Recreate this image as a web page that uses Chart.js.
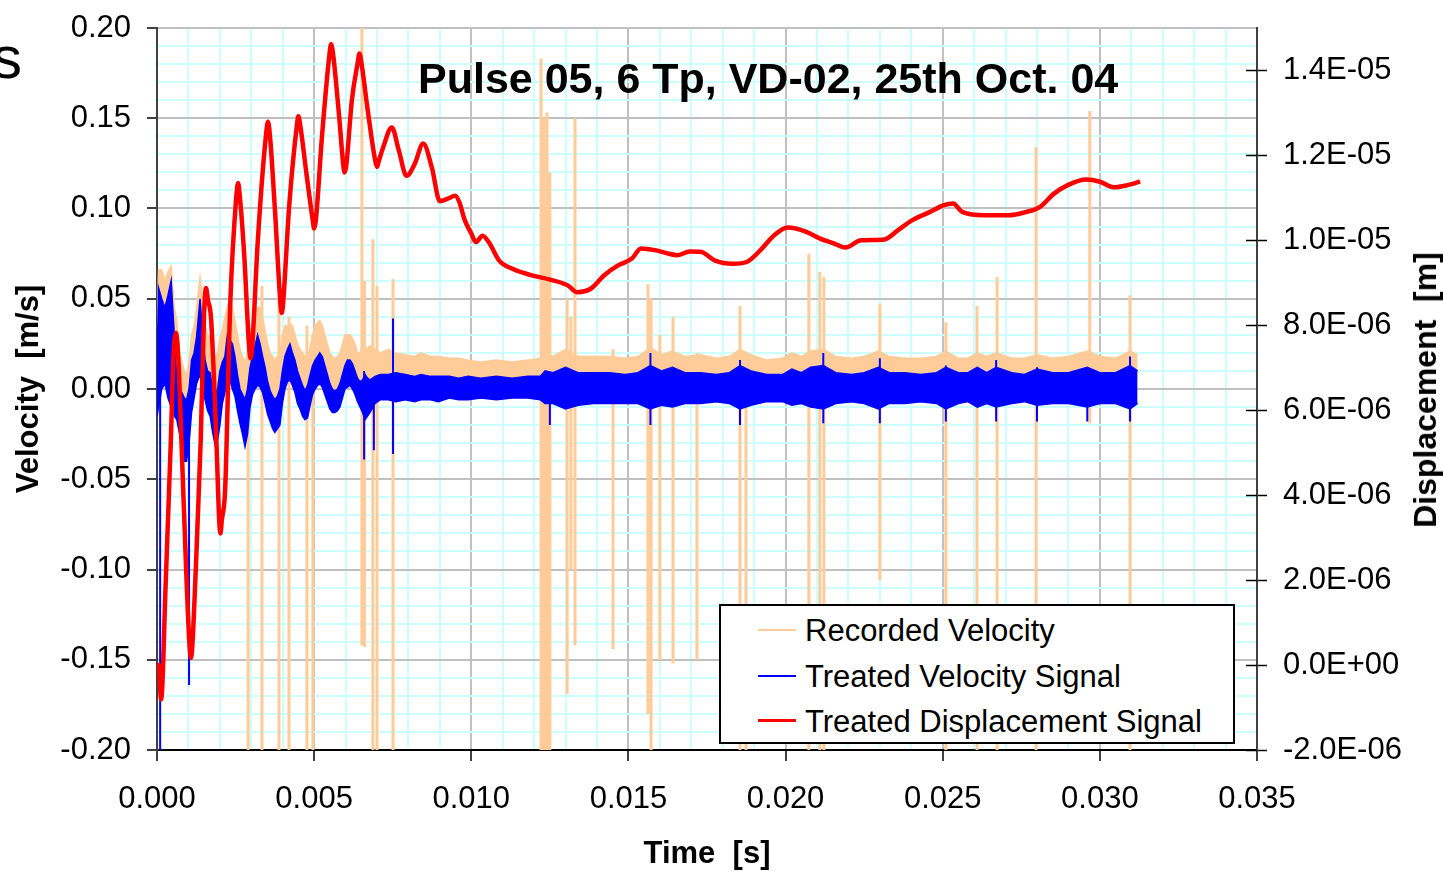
<!DOCTYPE html>
<html>
<head>
<meta charset="utf-8">
<script src="https://cdn.jsdelivr.net/npm/chart.js@4.4.1/dist/chart.umd.min.js"></script>
<style>
  body { margin: 0; background: #fff; font-family: Arial, "Liberation Sans", Helvetica, sans-serif; }
  #wrap { position: relative; width: 1443px; height: 871px; overflow: hidden; }
  #chart { position: absolute; left: 0; top: 0; }
  .txt { position: absolute; line-height: 1; white-space: pre; color: #000; }
  #legend { position: absolute; left: 719px; top: 604px; width: 516px; height: 140px; box-sizing: border-box;
            border: 2px solid #000; background: #fff; }
  .row { position: absolute; left: 0; width: 100%; }
  .swatch { position: absolute; left: 37px; width: 38px; }
  .label { position: absolute; left: 84px; font-size: 31px; line-height: 1; white-space: pre; }
</style>
</head>
<body>
<div id="wrap">
  <canvas id="chart" width="1443" height="871"></canvas>
  <div class="txt" style="left:-8px; top:28px; font-size:60px;">s</div>
  <div class="txt" style="left:418px; top:57px; font-size:43px; font-weight:bold;">Pulse 05, 6 Tp, VD-02, 25th Oct. 04</div>
  <div class="txt" style="left:1425px; top:390px; font-size:32px; font-weight:bold; transform: translate(-50%,-50%) rotate(-90deg);">Displacement  [m]</div>
  <div id="legend">
    <div class="row" style="top:23px;"><div class="swatch" style="top:0; height:2px; background:#ffcc99;"></div><div class="label" style="top:-14px;">Recorded Velocity</div></div>
    <div class="row" style="top:69px;"><div class="swatch" style="top:0; height:2px; background:#0000ff;"></div><div class="label" style="top:-14px;">Treated Velocity Signal</div></div>
    <div class="row" style="top:114px;"><div class="swatch" style="top:-1px; height:3px; background:#ff0000;"></div><div class="label" style="top:-14px;">Treated Displacement Signal</div></div>
  </div>
</div>
<script>
// time in ms, velocity in m/s, displacement in micrometres
const velT = [
  0.00,0.05,0.15,0.25,0.35,0.45,0.55,0.63,0.72,0.79,
  0.87,0.94,1.02,1.10,1.18,1.26,1.37,1.45,1.53,1.61,
  1.69,1.77,1.85,1.93,2.00,2.08,2.16,2.24,2.32,2.40,
  2.48,2.56,2.64,2.72,2.80,2.88,2.96,3.04,3.12,3.20,
  3.28,3.36,3.44,3.52,3.60,3.68,3.75,3.83,3.91,3.99,
  4.07,4.15,4.23,4.31,4.39,4.47,4.55,4.63,4.71,4.79,
  4.86,4.95,5.03,5.11,5.18,5.26,5.34,5.42,5.50,5.58,
  5.66,5.74,5.82,5.90,5.98,6.06,6.14,6.22,6.30,6.38,
  6.46,6.54,6.62,6.70,6.78,6.94,7.10,7.36,7.60,7.90,
  8.20,8.40,8.70,8.95,9.30,9.60,
  9.90,10.30,10.80,11.30,11.80,12.20,12.35,12.60,13.00,13.40,
  13.90,14.40,14.90,15.30,15.70,16.05,16.40,16.80,17.30,17.80,
  18.20,18.55,18.90,19.40,19.90,20.20,20.50,20.80,21.20,21.60,
  22.10,22.50,22.95,23.30,23.80,24.30,24.80,25.10,25.50,25.80,
  26.10,26.40,26.70,27.20,27.60,28.00,28.50,29.00,29.60,30.00,
  30.50,30.96,31.20
];

const blueHi = [
  0.010,0.056,0.050,0.045,0.052,0.060,0.030,0.005,0.000,-0.002,
  -0.005,-0.006,0.000,0.016,0.020,0.029,0.050,0.030,0.016,0.010,
  0.009,0.000,-0.002,0.000,0.010,0.015,0.018,0.030,0.027,0.025,
  0.018,0.008,0.000,-0.003,-0.006,0.000,0.012,0.018,0.024,0.030,
  0.025,0.018,0.012,0.004,-0.001,-0.004,-0.006,-0.004,0.000,0.010,
  0.018,0.022,0.025,0.020,0.016,0.010,0.006,0.002,-0.001,0.002,
  0.007,0.013,0.016,0.018,0.020,0.018,0.013,0.008,0.003,0.000,
  -0.001,0.000,0.003,0.008,0.013,0.016,0.016,0.014,0.010,0.006,
  0.004,0.005,0.008,0.006,0.005,0.007,0.008,0.008,0.009,0.008,
  0.007,0.008,0.007,0.007,0.007,0.006,
  0.007,0.006,0.007,0.006,0.007,0.007,0.010,0.009,0.012,0.009,
  0.009,0.009,0.008,0.009,0.013,0.010,0.012,0.009,0.009,0.008,
  0.009,0.013,0.010,0.008,0.008,0.011,0.009,0.012,0.013,0.009,
  0.008,0.009,0.012,0.009,0.009,0.008,0.009,0.012,0.009,0.009,
  0.012,0.009,0.012,0.009,0.008,0.011,0.009,0.009,0.012,0.009,
  0.009,0.013,0.010
];

const blueLo = [
  -0.015,-0.010,0.000,0.003,-0.005,-0.010,-0.015,-0.017,-0.025,-0.032,
  -0.040,-0.040,-0.030,-0.013,-0.005,0.003,0.008,0.000,-0.006,-0.012,
  -0.015,-0.024,-0.031,-0.028,-0.020,-0.008,-0.002,0.003,0.005,0.000,
  -0.004,-0.012,-0.019,-0.025,-0.032,-0.025,-0.010,-0.003,0.000,0.002,
  0.001,-0.002,-0.008,-0.014,-0.018,-0.022,-0.024,-0.022,-0.020,-0.008,
  0.000,0.004,0.005,0.002,-0.002,-0.008,-0.011,-0.015,-0.017,-0.016,
  -0.010,-0.003,0.000,0.002,0.003,0.001,-0.003,-0.007,-0.011,-0.013,
  -0.013,-0.012,-0.010,-0.005,0.000,0.001,0.002,0.000,-0.003,-0.007,
  -0.010,-0.013,-0.017,-0.015,-0.013,-0.008,-0.006,-0.006,-0.007,-0.006,
  -0.007,-0.006,-0.006,-0.007,-0.005,-0.006,
  -0.006,-0.005,-0.006,-0.005,-0.005,-0.006,-0.008,-0.008,-0.011,-0.009,
  -0.008,-0.008,-0.008,-0.008,-0.011,-0.009,-0.010,-0.008,-0.008,-0.007,
  -0.008,-0.011,-0.009,-0.007,-0.007,-0.009,-0.008,-0.010,-0.011,-0.008,
  -0.007,-0.008,-0.011,-0.008,-0.008,-0.007,-0.008,-0.011,-0.008,-0.007,
  -0.010,-0.008,-0.010,-0.008,-0.007,-0.009,-0.008,-0.008,-0.010,-0.008,
  -0.008,-0.011,-0.008
];

const recHi = [
  0.030,0.066,0.066,0.060,0.065,0.068,0.045,0.038,0.020,0.015,
  0.010,0.008,0.015,0.030,0.035,0.045,0.062,0.050,0.035,0.030,
  0.028,0.020,0.018,0.020,0.028,0.033,0.040,0.045,0.050,0.045,
  0.038,0.030,0.022,0.018,0.015,0.020,0.030,0.038,0.045,0.045,
  0.045,0.040,0.032,0.025,0.020,0.018,0.016,0.018,0.020,0.030,
  0.035,0.035,0.036,0.035,0.030,0.025,0.022,0.020,0.018,0.018,
  0.022,0.030,0.035,0.037,0.038,0.035,0.030,0.025,0.020,0.018,
  0.017,0.018,0.020,0.025,0.030,0.030,0.030,0.028,0.025,0.020,
  0.020,0.025,0.022,0.023,0.024,0.022,0.020,0.022,0.020,0.019,
  0.018,0.020,0.018,0.018,0.017,0.017,
  0.016,0.015,0.016,0.015,0.016,0.017,0.020,0.018,0.022,0.018,
  0.018,0.018,0.017,0.018,0.023,0.019,0.021,0.018,0.019,0.017,
  0.018,0.022,0.019,0.016,0.017,0.020,0.018,0.021,0.022,0.018,
  0.017,0.018,0.021,0.018,0.017,0.017,0.018,0.021,0.017,0.017,
  0.020,0.018,0.020,0.017,0.017,0.019,0.017,0.018,0.021,0.018,
  0.017,0.021,0.019
];

const recLo = [
  -0.005,0.000,0.010,0.012,0.005,0.000,-0.006,-0.008,-0.016,-0.022,
  -0.030,-0.030,-0.020,-0.004,0.004,0.012,0.018,0.010,0.003,-0.003,
  -0.006,-0.015,-0.022,-0.019,-0.011,0.001,0.007,0.012,0.014,0.009,
  0.005,-0.003,-0.010,-0.016,-0.022,-0.016,-0.001,0.006,0.009,0.011,
  0.010,0.007,0.001,-0.005,-0.009,-0.013,-0.015,-0.013,-0.011,0.001,
  0.009,0.013,0.014,0.011,0.007,0.001,-0.002,-0.006,-0.008,-0.007,
  -0.001,0.006,0.009,0.011,0.012,0.010,0.006,0.002,-0.002,-0.004,
  -0.004,-0.003,-0.001,0.004,0.009,0.010,0.011,0.009,0.006,0.002,
  -0.001,-0.004,-0.008,-0.006,-0.004,0.001,0.003,0.003,0.002,0.003,
  0.002,0.003,0.003,0.002,0.004,0.003,
  0.004,0.004,0.004,0.004,0.005,0.005,0.006,0.006,0.007,0.006,
  0.006,0.006,0.006,0.006,0.007,0.006,0.007,0.006,0.006,0.006,
  0.006,0.007,0.006,0.005,0.005,0.006,0.006,0.007,0.007,0.006,
  0.005,0.006,0.007,0.006,0.006,0.005,0.006,0.007,0.006,0.006,
  0.007,0.006,0.007,0.006,0.005,0.006,0.006,0.006,0.007,0.006,
  0.006,0.007,0.006
];

// isolated spikes of the recorded signal
const recSpikeT = [2.90,3.34,3.88,4.20,4.77,4.96,6.52,6.60,6.87,7.00,
  7.51,12.22,12.26,12.31,12.36,12.41,12.45,12.50,13.05,13.17,
  13.30,14.51,15.62,15.72,16.00,16.42,17.18,18.55,18.74,20.74,
  21.09,21.22,23.00,25.10,26.09,26.73,27.97,29.68,30.96];
const recSpikeTop = [0.020,0.057,0.050,0.040,0.035,0.030,0.200,0.060,0.083,0.057,
  0.061,0.183,0.120,0.150,0.100,0.153,0.080,0.120,0.050,0.040,
  0.150,0.022,0.058,0.050,0.030,0.040,0.020,0.046,0.020,0.075,
  0.065,0.062,0.047,0.037,0.046,0.062,0.134,0.154,0.052];
const recSpikeBot = [-0.200,-0.200,-0.200,-0.200,-0.200,-0.200,-0.142,-0.143,-0.200,-0.200,
  -0.200,-0.200,-0.200,-0.200,-0.200,-0.200,-0.200,-0.200,-0.169,-0.100,
  -0.142,-0.144,-0.180,-0.200,-0.150,-0.152,-0.150,-0.200,-0.200,-0.200,
  -0.200,-0.200,-0.106,-0.200,-0.200,-0.200,-0.200,-0.019,-0.200];

// spikes of the treated signal
const blueSpikeT = [0.10,1.02,6.59,6.90,7.51,12.50,15.70,18.55,21.20,23.00,25.10,26.70,28.00,29.60,30.96];
const blueSpikeTop = [0.050,0.000,0.010,0.005,0.039,0.005,0.020,0.016,0.020,0.017,0.013,0.016,0.012,0.010,0.018];
const blueSpikeBot = [-0.200,-0.164,-0.039,-0.034,-0.036,-0.020,-0.020,-0.020,-0.019,-0.019,-0.018,-0.018,-0.018,-0.018,-0.018];

const dispT = [
  0.00,0.05,0.13,0.28,0.44,0.52,0.60,0.68,0.78,0.94,1.04,1.08,1.12,1.22,1.39,
  1.50,1.56,1.62,1.72,1.89,1.98,2.02,2.06,2.17,2.33,2.52,2.58,2.64,2.78,2.93,2.98,3.03,3.20,
  3.47,3.53,3.59,3.75,3.93,3.97,4.01,4.20,4.45,4.50,4.56,4.75,4.96,5.00,5.05,5.25,
  5.49,5.54,5.60,5.80,5.93,5.97,6.02,6.20,6.39,6.44,6.50,6.70,6.95,7.00,7.05,
  7.20,7.47,7.70,7.94,8.20,8.47,8.75,9.00,9.25,9.49,
  9.63,9.78,10.00,10.15,10.36,10.58,10.88,11.31,11.90,12.48,
  13.07,13.36,13.80,14.23,14.67,15.11,15.40,15.84,16.20,16.57,16.95,17.30,
  17.74,18.32,18.76,19.20,19.64,20.07,20.66,21.10,21.53,21.90,
  22.41,23.14,23.58,24.02,24.60,25.04,25.33,25.62,26.35,27.08,
  27.66,28.10,28.54,28.98,29.56,30.00,30.44,30.88,31.17,31.28
];
const dispMicro = [
  0.0,0.0,-0.81,2.0,5.27,7.2,7.82,7.2,5.23,2.0,0.4,0.17,0.4,2.0,5.27,
  8.3,8.88,8.6,8.16,5.27,3.4,3.1,3.4,4.16,8.5,11.0,11.35,11.0,9.6,7.5,7.22,7.5,9.9,
  12.5,12.79,12.5,10.75,8.5,8.29,8.5,10.75,12.7,12.92,12.7,11.6,10.45,10.28,10.45,12.45,
  14.4,14.62,14.4,12.88,11.75,11.6,11.75,13.3,14.2,14.4,14.2,13.09,11.85,11.73,11.85,
  12.2,12.66,12.1,11.52,11.8,12.28,11.7,10.92,10.98,11.05,
  10.88,10.5,10.16,9.96,10.11,9.93,9.53,9.33,9.18,9.08,
  8.94,8.78,8.86,9.18,9.41,9.57,9.81,9.77,9.70,9.65,9.74,9.73,
  9.53,9.45,9.49,9.77,10.12,10.3,10.2,10.04,9.93,9.83,
  10.0,10.02,10.24,10.47,10.67,10.83,10.87,10.67,10.59,10.59,
  10.67,10.79,11.1,11.3,11.43,11.38,11.25,11.3,11.36,11.39
];

const ORANGE = '#ffcc99';
const BLUE = '#0000ff';
const RED = '#ff0000';
const FONT = 'Arial, "Liberation Sans", Helvetica, sans-serif';

function series(ts, vals, k) {
  return ts.map((t, i) => ({ x: t / 1000, y: vals[i] * (k || 1) }));
}
function spikes(ts, tops, bots) {
  const out = [];
  ts.forEach((t, i) => {
    out.push({ x: t / 1000, y: tops[i] }, { x: t / 1000, y: bots[i] }, { x: t / 1000, y: null });
  });
  return out;
}
function onStep(v, step) {
  const r = v / step;
  return Math.abs(r - Math.round(r)) < 1e-6;
}
function sci(v) {
  const m = Math.round(v * 1e8) / 1e8;
  if (m === 0) return '0.0E+00';
  const e = Math.floor(Math.log10(Math.abs(m)) + 1e-9);
  const mant = m / Math.pow(10, e);
  return mant.toFixed(1) + 'E' + (e < 0 ? '-' : '+') + String(Math.abs(e)).padStart(2, '0');
}
// fixed width for the vertical axes; drop the label overhang so the plot top stays at 28px
function fixVertical(w) {
  return s => { s.width = w; s.paddingTop = 0; s.paddingBottom = 0; };
}

// inner half of the right-axis tick marks (cross ticks)
const crossTicks = {
  id: 'crossTicks',
  afterDraw(chart) {
    const s = chart.scales.y1;
    const ctx = chart.ctx;
    const right = chart.chartArea.right;
    ctx.save();
    ctx.strokeStyle = '#000';
    ctx.lineWidth = 1.5;
    s.ticks.forEach(t => {
      if (!onStep(t.value, 2e-6)) return;
      const y = Math.round(s.getPixelForValue(t.value)) + 0.5;
      ctx.beginPath();
      ctx.moveTo(right - 11, y);
      ctx.lineTo(right, y);
      ctx.stroke();
    });
    ctx.restore();
  }
};

const common = { pointRadius: 0, pointHoverRadius: 0, tension: 0, spanGaps: false };

new Chart(document.getElementById('chart'), {
  type: 'line',
  data: {
    datasets: [
      Object.assign({}, common, { label: 'Treated Displacement Signal', data: series(dispT, dispMicro, 1e-6),
        borderColor: RED, borderWidth: 4.5, yAxisID: 'y1', order: 0, fill: false,
        cubicInterpolationMode: 'monotone' }),
      Object.assign({ label: 'Treated Velocity Signal', data: series(velT, blueHi),
        borderColor: BLUE, backgroundColor: BLUE, borderWidth: 1.5, yAxisID: 'y', order: 1, fill: '+1' }, common),
      Object.assign({ label: 'blue low', data: series(velT, blueLo),
        borderColor: BLUE, borderWidth: 1.5, yAxisID: 'y', order: 1, fill: false }, common),
      Object.assign({ label: 'blue spikes', data: spikes(blueSpikeT, blueSpikeTop, blueSpikeBot),
        borderColor: BLUE, borderWidth: 2, yAxisID: 'y', order: 1, fill: false }, common),
      Object.assign({ label: 'Recorded Velocity', data: series(velT, recHi),
        borderColor: ORANGE, backgroundColor: ORANGE, borderWidth: 1.5, yAxisID: 'y', order: 2, fill: '+1' }, common),
      Object.assign({ label: 'rec low', data: series(velT, recLo),
        borderColor: ORANGE, borderWidth: 1.5, yAxisID: 'y', order: 2, fill: false }, common),
      Object.assign({ label: 'rec spikes', data: spikes(recSpikeT, recSpikeTop, recSpikeBot),
        borderColor: ORANGE, borderWidth: 3, yAxisID: 'y', order: 2, fill: false }, common)
    ]
  },
  options: {
    responsive: false,
    animation: false,
    events: [],
    layout: { padding: { top: 28, left: 0, right: 0, bottom: 0 } },
    plugins: { legend: { display: false }, tooltip: { enabled: false }, title: { display: false } },
    scales: {
      x: {
        type: 'linear', min: 0, max: 0.035,
        afterFit: s => { s.height = 121; },
        border: { color: '#000', width: 2 },
        grid: {
          color: c => onStep(c.tick.value, 0.005) ? '#c0c0c0' : '#ccffff',
          lineWidth: 2,
          tickLength: 11,
          tickWidth: 1.5,
          tickColor: c => onStep(c.tick.value, 0.005) ? '#000' : 'rgba(0,0,0,0)'
        },
        ticks: {
          stepSize: 0.001, autoSkip: false, maxRotation: 0, padding: 20, color: '#000',
          font: { family: FONT, size: 31 },
          callback: v => onStep(v, 0.005) ? v.toFixed(3) : ''
        },
        title: { display: true, text: 'Time  [s]', color: '#000', padding: { top: 0, bottom: 1 },
          font: { family: FONT, size: 31, weight: 'bold', lineHeight: 1 } }
      },
      y: {
        position: 'left', min: -0.2, max: 0.2,
        afterFit: fixVertical(157),
        border: { color: '#404040', width: 2 },
        grid: {
          color: c => onStep(c.tick.value, 0.05) ? '#c0c0c0' : '#ccffff',
          lineWidth: 2,
          tickLength: 10,
          tickWidth: 1.5,
          tickColor: c => onStep(c.tick.value, 0.05) ? '#000' : 'rgba(0,0,0,0)'
        },
        ticks: {
          stepSize: 0.01, autoSkip: false, padding: 16, color: '#000',
          font: { family: FONT, size: 31 },
          callback: v => onStep(v, 0.05) ? (Math.round(v * 100) / 100).toFixed(2) : ''
        },
        title: { display: true, text: 'Velocity  [m/s]', color: '#000', padding: { top: 14, bottom: 0 },
          font: { family: FONT, size: 31, weight: 'bold', lineHeight: 1 } }
      },
      y1: {
        position: 'right', min: -2e-6, max: 1.5e-5,
        afterFit: fixVertical(186),
        border: { color: '#404040', width: 2 },
        grid: {
          drawOnChartArea: false,
          tickLength: 10,
          tickWidth: 1.5,
          tickColor: c => onStep(c.tick.value, 2e-6) ? '#000' : 'rgba(0,0,0,0)'
        },
        ticks: {
          stepSize: 2e-6, autoSkip: false, padding: 16, color: '#000',
          font: { family: FONT, size: 31 },
          callback: v => onStep(v, 2e-6) ? sci(v) : ''
        }
      }
    }
  },
  plugins: [crossTicks]
});
</script>
</body>
</html>
